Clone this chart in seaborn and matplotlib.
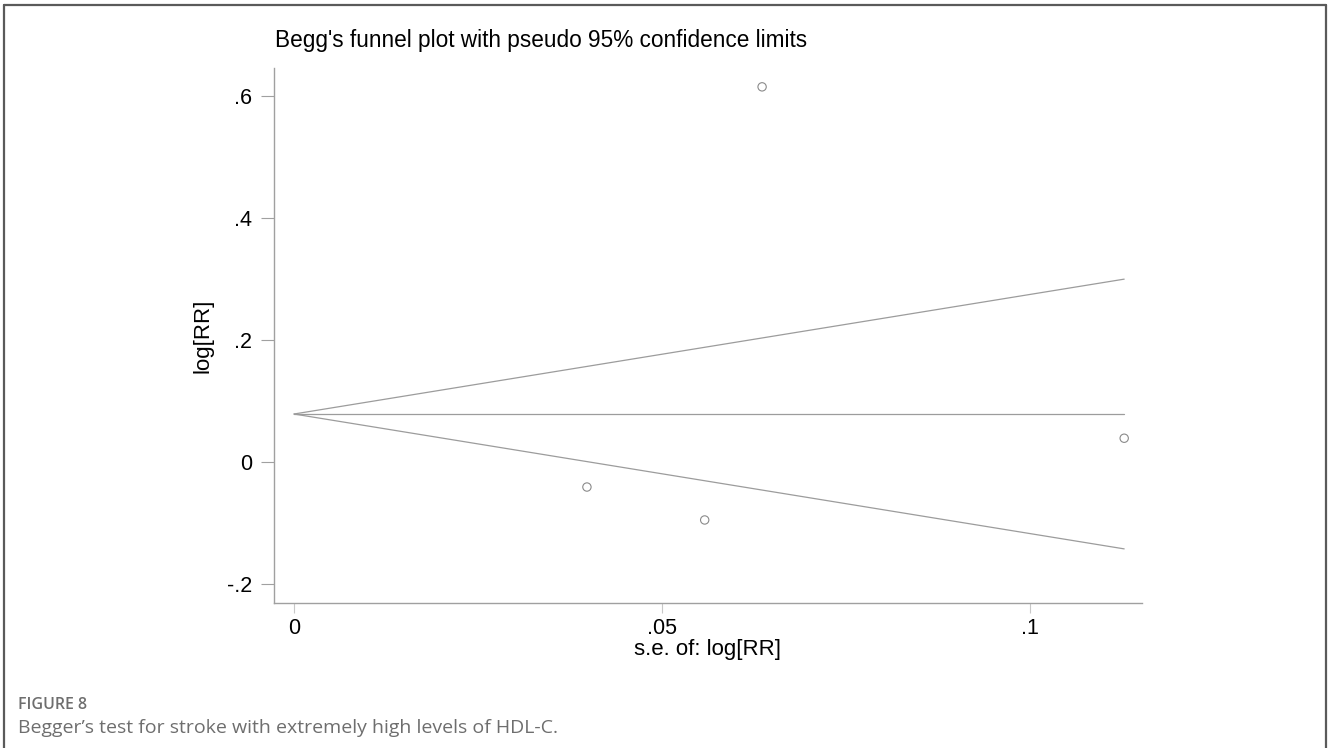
import matplotlib
matplotlib.use("Agg")
import matplotlib.pyplot as plt
from matplotlib.lines import Line2D
import numpy as np
import pandas as pd
import seaborn as sns

# Study-level effects (log relative risk) and their standard errors
se_log_rr = [0.0636, 0.0398, 0.0558, 0.1128]
log_rr = [0.615, -0.041, -0.095, 0.039]
pooled_log_rr = 0.0787

y_ticks = [-0.2, 0.0, 0.2, 0.4, 0.6]
y_tick_labels = ["-.2", "0", ".2", ".4", ".6"]
x_ticks = [0.0, 0.05, 0.1]
x_tick_labels = ["0", ".05", ".1"]

sns.set_theme(style="white")
plt.rcParams["font.family"] = ["Liberation Sans", "DejaVu Sans"]

studies = pd.DataFrame({"se": se_log_rr, "logrr": log_rr})

# Pseudo 95% confidence limits around the pooled estimate
se_max = max(se_log_rr)
funnel = pd.DataFrame({
    "se": [0.0, se_max, 0.0, se_max, 0.0, se_max],
    "value": [pooled_log_rr, pooled_log_rr + 1.96 * se_max,
              pooled_log_rr, pooled_log_rr - 1.96 * se_max,
              pooled_log_rr, pooled_log_rr],
    "part": ["upper", "upper", "lower", "lower", "centre", "centre"],
})

fig = plt.figure(figsize=(13.28, 7.48), dpi=100)
ax = fig.add_axes([274 / 1328, 1 - 603 / 748, (1142 - 274) / 1328, (603 - 68) / 748])

line_grey = "#9c9c9c"
sns.lineplot(data=funnel, x="se", y="value", units="part", estimator=None,
             color=line_grey, lw=0.9, ax=ax, legend=False)
sns.scatterplot(data=studies, x="se", y="logrr", ax=ax, s=36,
                facecolor="none", edgecolor="#8a8a8a", linewidth=0.8,
                marker="o", zorder=3)

ax.set_xlim(-0.00272, 0.11522)
ax.set_ylim(-0.2311, 0.6459)
ax.set_xticks(x_ticks)
ax.set_xticklabels(x_tick_labels)
ax.set_yticks(y_ticks)
ax.set_yticklabels(y_tick_labels)

for side in ("top", "right"):
    ax.spines[side].set_visible(False)
for side in ("left", "bottom"):
    ax.spines[side].set_color("#a0a0a0")
    ax.spines[side].set_linewidth(1.0)

ax.tick_params(axis="y", which="both", left=True, length=9.5, width=0.8,
               color="#a0a0a0", labelsize=15.5, labelcolor="black", pad=6,
               labelrotation=0)
ax.tick_params(axis="x", which="both", bottom=True, length=7.5, width=0.8,
               color="#c8c8c8", labelsize=15.5, labelcolor="black", pad=3)

ax.set_xlabel("s.e. of: log[RR]", fontsize=16, color="black", labelpad=0)
ax.set_ylabel("log[RR]", fontsize=16, color="black", labelpad=10)

fig.text(275 / 1328, 1 - 41 / 748, "Begg's funnel plot with pseudo 95% confidence limits",
         fontsize=16.3, color="black", ha="left", va="center")

# Panel frame and caption
frame_col = "#5a5a5a"
fig.add_artist(Line2D([4 / 1328, 1326 / 1328], [1 - 5 / 748, 1 - 5 / 748],
                      transform=fig.transFigure, color=frame_col, lw=1.6))
fig.add_artist(Line2D([4 / 1328, 4 / 1328], [0, 1 - 5 / 748],
                      transform=fig.transFigure, color=frame_col, lw=1.6))
fig.add_artist(Line2D([1326 / 1328, 1326 / 1328], [0, 1 - 5 / 748],
                      transform=fig.transFigure, color=frame_col, lw=1.6))

fig.text(18 / 1328, 1 - 705 / 748, "FIGURE 8", fontsize=11.5, color="#6e6e6e",
         ha="left", va="center", family=["Open Sans", "DejaVu Sans"], fontweight="semibold")
fig.text(18 / 1328, 1 - 728 / 748, "Begger\u2019s test for stroke with extremely high levels of HDL-C.",
         fontsize=14, color="#6e6e6e", ha="left", va="center",
         family=["Open Sans", "DejaVu Sans"])

fig.savefig("out.png", dpi=100, facecolor="white")
